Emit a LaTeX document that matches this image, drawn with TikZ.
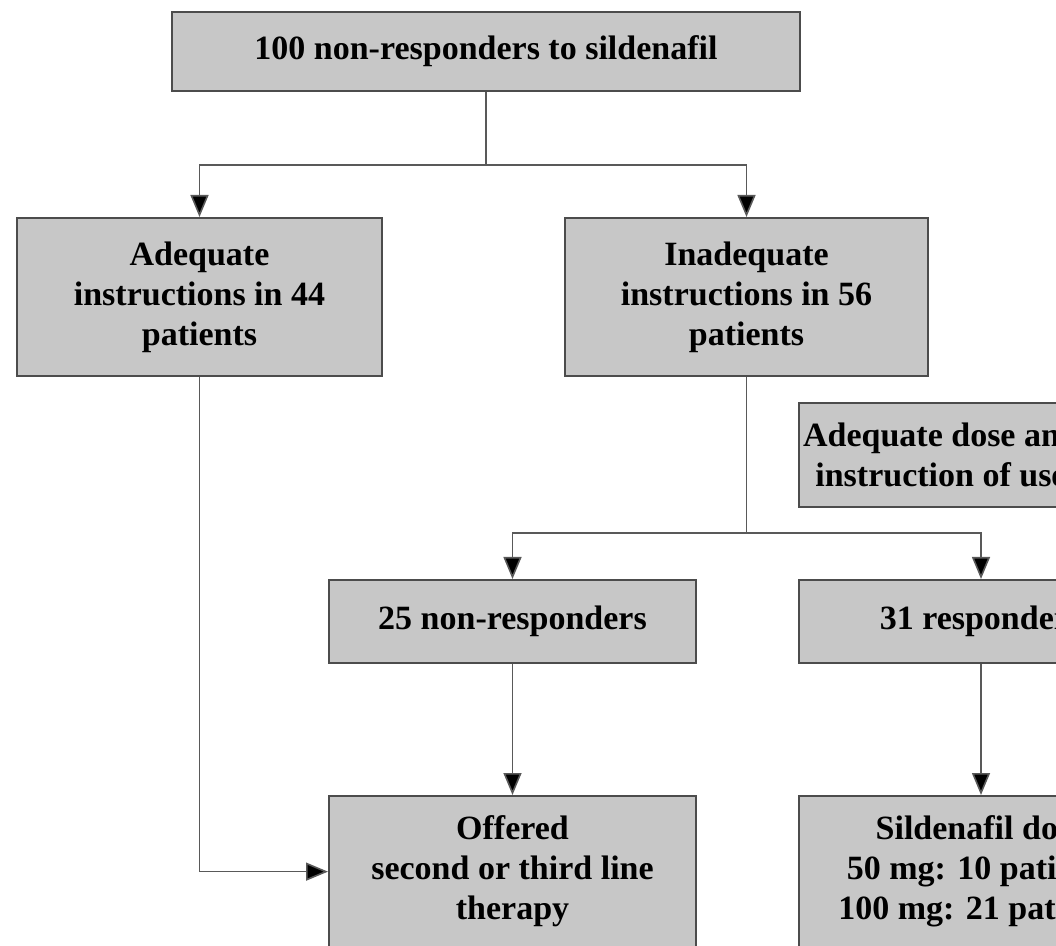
\documentclass[tikz,border=0pt]{standalone}
\usepackage{fontspec}
\setmainfont{Liberation Serif}
\usepackage{tikz}
\usetikzlibrary{positioning, arrows.meta}

\begin{document}
\begin{tikzpicture}[x=0.5pt,y=-0.5pt,
  box/.style={draw=black!70,line width=1pt,fill=black!22,inner sep=0pt,
    align=center,font=\fontsize{17}{20}\selectfont\bfseries},
  tallbox/.style={box,anchor=north,inner ysep=10pt,minimum width=183.5pt},
  link/.style={draw=black!65,line width=0.8pt},
  arr/.style={link,-{Triangle[width=9pt,length=11pt,fill=black]}}]
\useasboundingbox (0,0) rectangle (1056,946);
\clip (0,0) rectangle (1056,946);
% boxes
\node[box,minimum width=314pt,minimum height=39.5pt] (top) at (486,51.5) {100 non-responders to sildenafil};
\node[box,minimum width=182.5pt,minimum height=79pt] (adeq) at (199.5,297) {Adequate\\instructions in 44\\patients};
\node[box,minimum width=181.5pt,minimum height=79pt] (inadeq) at (746.5,297) {Inadequate\\instructions in 56\\patients};
\node[box,minimum width=142pt,minimum height=52pt] (dose) at (941,455) {Adequate dose and\\instruction of use};
\node[box,minimum width=183.5pt,minimum height=41.5pt] (nonresp) at (512.5,621.5) {25 non-responders};
\node[box,minimum width=182pt,minimum height=41.5pt] (resp) at (981,621.5) {31 responders};
\node[tallbox] (offered) at (512.5,795) {Offered\\second or third line\\therapy};
\node[tallbox,minimum width=182pt] (sildose) at (981,795) {Sildenafil dose\\50 mg: 10 patients\\100 mg: 21 patients};
% junctions
\coordinate (j1) at (486,165);
\coordinate (j2) at (746.5,533);
% arrows
\draw[link] (top) -- (j1);
\draw[arr] (j1) -| (adeq);
\draw[arr] (j1) -| (inadeq);
\draw[link] (inadeq) -- (j2);
\draw[arr] (j2) -| (nonresp);
\draw[arr] (j2) -| (resp);
\draw[arr] (nonresp) -- (offered);
\draw[arr] (resp) -- (sildose);
\draw[arr] (adeq) |- (offered);
\end{tikzpicture}
\end{document}
